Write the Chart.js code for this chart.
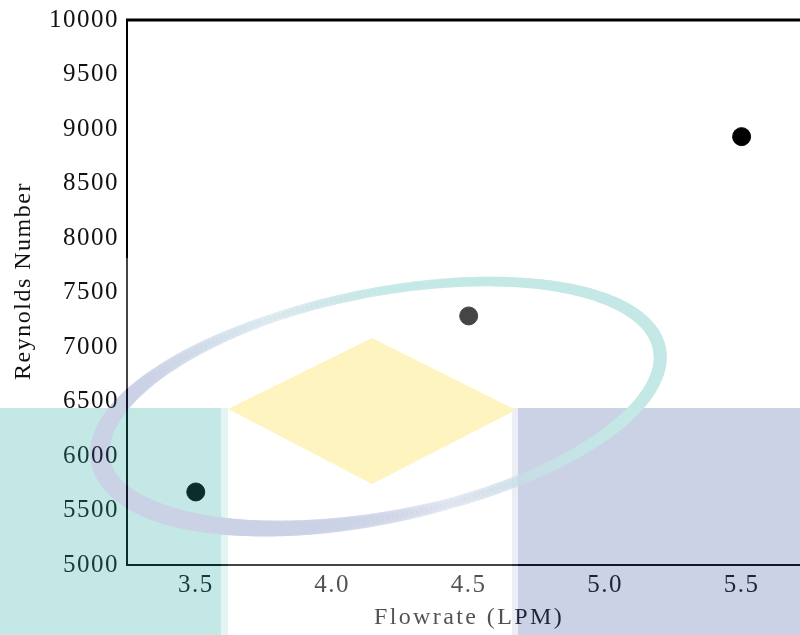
<!DOCTYPE html>
<html>
<head>
<meta charset="utf-8">
<title>Reynolds Number vs Flowrate</title>
<script src="https://cdn.jsdelivr.net/npm/chart.js@4.4.1/dist/chart.umd.min.js"></script>
<style>
  html, body { margin: 0; padding: 0; background: #ffffff; }
  #chart { display: block; }
</style>
</head>
<body>
<canvas id="chart" width="800" height="635"></canvas>
<script>
// Measured flow rates (LPM) and the resulting Reynolds numbers
const flowrate = [3.5, 4.5, 5.5];
const reynolds = [5670, 7285, 8930];

// Axis ticks
const xTicks = [3.5, 4.0, 4.5, 5.0, 5.5];
const xRange = [3.248, 5.714];
const yTicks = [5000, 5500, 6000, 6500, 7000, 7500, 8000, 8500, 9000, 9500, 10000];

const xTitle = 'Flowrate (LPM)';
const yTitle = 'Reynolds Number';

const FONT = "'Liberation Serif', 'Times New Roman', serif";
const TICK_SPACING = '1.5px';

// Faded institutional emblem printed over the lower part of the figure
function buildEmblem(w, h) {
  const c = document.createElement('canvas');
  c.width = w; c.height = h;
  const g = c.getContext('2d');
  const teal = [37, 170, 163], lav = [63, 89, 159];

  g.fillStyle = '#ffffff';
  g.fillRect(122, 258, w - 122, h - 258);
  g.fillStyle = 'rgb(37,170,163)';
  g.fillRect(0, 408, 221, h - 408);
  g.fillStyle = 'rgb(152,215,211)';
  g.fillRect(221, 408, 7, h - 408);
  g.fillStyle = 'rgb(185,193,219)';
  g.fillRect(512, 408, 6, h - 408);
  g.fillStyle = 'rgb(63,89,159)';
  g.fillRect(518, 408, w - 518, h - 408);

  // diamond
  g.fillStyle = 'rgb(248,215,22)';
  g.beginPath();
  g.moveTo(372, 338); g.lineTo(516, 410); g.lineTo(372, 484); g.lineTo(228, 409);
  g.closePath(); g.fill();

  // tilted ring: [angle, lavender mix, strength, width]
  const keys = [
    [0.0, 0, 1.0, 13], [0.6, 0, 0.85, 12], [1.0, 0.2, 0.5, 11], [1.4, 1, 0.25, 11],
    [1.9, 1, 0.75, 15], [2.6, 1, 1.0, 19], [3.3, 1, 1.0, 19], [3.9, 1, 0.5, 13],
    [4.4, 0.5, 0.3, 9], [4.8, 0, 0.7, 9], [5.4, 0, 1.0, 10], [2 * Math.PI, 0, 1.0, 13]
  ];
  const interp = (a) => {
    for (let i = 0; i < keys.length - 1; i++) {
      const k0 = keys[i], k1 = keys[i + 1];
      if (a >= k0[0] && a <= k1[0]) {
        const t = (a - k0[0]) / (k1[0] - k0[0]);
        return [k0[1] + (k1[1] - k0[1]) * t, k0[2] + (k1[2] - k0[2]) * t, k0[3] + (k1[3] - k0[3]) * t];
      }
    }
    return [0, 1, 13];
  };
  const cx = 380, cy = 405, rx = 285, ry = 112, rot = -0.2;
  const pt = (a) => {
    const ex = rx * Math.cos(a), ey = ry * Math.sin(a);
    return [cx + ex * Math.cos(rot) - ey * Math.sin(rot), cy + ex * Math.sin(rot) + ey * Math.cos(rot)];
  };
  const N = 360;
  g.lineCap = 'round';
  for (let i = 0; i < N; i++) {
    const a0 = (i / N) * 2 * Math.PI, a1 = ((i + 1) / N) * 2 * Math.PI;
    const [m, s, wd] = interp((a0 + a1) / 2);
    const col = teal.map((v, j) => Math.round(v + (lav[j] - v) * m));
    const p0 = pt(a0), p1 = pt(a1);
    g.globalAlpha = s;
    g.strokeStyle = 'rgb(' + col.join(',') + ')';
    g.lineWidth = wd;
    g.beginPath(); g.moveTo(p0[0], p0[1]); g.lineTo(p1[0], p1[1]); g.stroke();
  }
  g.globalAlpha = 1;
  return c;
}

const emblem = buildEmblem(800, 635);

const framePlugin = {
  id: 'frame',
  beforeDraw(chart) {
    chart.ctx.letterSpacing = TICK_SPACING;
  },
  beforeDatasetsDraw(chart) {
    const { ctx, chartArea } = chart;
    ctx.save();
    ctx.strokeStyle = '#000';
    ctx.lineWidth = 3;
    ctx.beginPath();
    ctx.moveTo(chartArea.left - 1, chartArea.top);
    ctx.lineTo(chartArea.right, chartArea.top);
    ctx.stroke();
    ctx.restore();
  },
  afterDraw(chart) {
    const { ctx } = chart;
    ctx.save();
    ctx.fillStyle = '#111';
    ctx.font = '24px ' + FONT;
    ctx.textAlign = 'center';
    ctx.textBaseline = 'middle';
    ctx.letterSpacing = '2.4px';
    ctx.fillText(xTitle, 469, 618);
    ctx.letterSpacing = '1.5px';
    ctx.translate(24, 281);
    ctx.rotate(-Math.PI / 2);
    ctx.fillText(yTitle, 0, 0);
    ctx.restore();

    ctx.save();
    ctx.globalAlpha = 0.27;
    ctx.drawImage(emblem, 0, 0);
    ctx.restore();
  }
};

new Chart(document.getElementById('chart'), {
  type: 'scatter',
  data: {
    datasets: [{
      label: yTitle,
      data: flowrate.map((x, i) => ({ x: x, y: reynolds[i] })),
      backgroundColor: '#000',
      borderColor: '#000',
      pointRadius: 9,
      pointBorderWidth: 1,
      clip: false
    }]
  },
  options: {
    responsive: false,
    devicePixelRatio: 1,
    animation: false,
    layout: { autoPadding: false, padding: { top: 20, left: 0, right: 0, bottom: 0 } },
    plugins: { legend: { display: false }, tooltip: { enabled: false } },
    scales: {
      x: {
        type: 'linear',
        min: xRange[0],
        max: xRange[1],
        grid: { display: false, drawTicks: false },
        border: { display: true, color: '#000', width: 2 },
        afterBuildTicks: (s) => { s.ticks = xTicks.map(v => ({ value: v })); },
        afterFit: (s) => { s.height = 70; s.paddingLeft = 0; s.paddingRight = 0; },
        ticks: {
          padding: 5,
          color: '#111',
          font: { family: FONT, size: 25 },
          callback: (v) => Number(v).toFixed(1),
          maxRotation: 0
        }
      },
      y: {
        min: yTicks[0],
        max: yTicks[yTicks.length - 1],
        grid: { display: false, drawTicks: false },
        border: { display: true, color: '#000', width: 2 },
        afterBuildTicks: (s) => { s.ticks = yTicks.map(v => ({ value: v })); },
        afterFit: (s) => { s.width = 127; s.paddingTop = 0; s.paddingBottom = 0; },
        ticks: {
          padding: 8,
          color: '#111',
          font: { family: FONT, size: 25 },
          callback: (v) => String(v)
        }
      }
    }
  },
  plugins: [framePlugin]
});
</script>
</body>
</html>
